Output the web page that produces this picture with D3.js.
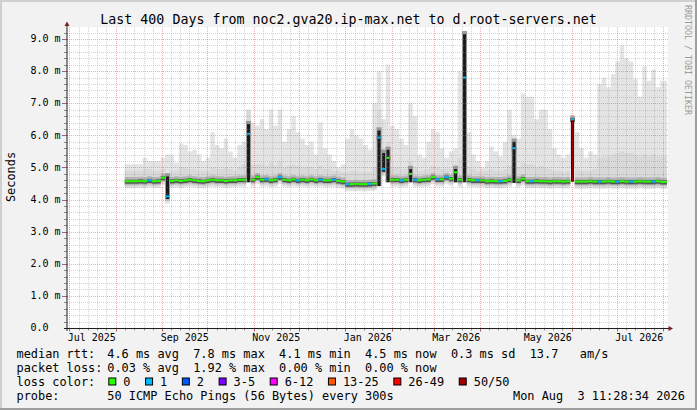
<!DOCTYPE html>
<html><head><meta charset="utf-8">
<script src="https://cdn.jsdelivr.net/npm/d3@7"></script>
<style>
html,body{margin:0;padding:0;background:#f2f2f2;}
svg{display:block;}
text{font-family:"DejaVu Sans Mono",monospace;white-space:pre;}
</style></head><body>
<svg id="c" width="697" height="410"></svg>
<script>
// ---------------- DATA ----------------
const title = "Last 400 Days from noc2.gva20.ip-max.net to d.root-servers.net";
const yAxisTitle = "Seconds";
const watermark = "RRDTOOL / TOBI OETIKER";
const startTime = "2025-06-29T11:28:34Z";
const endTime   = "2026-08-03T11:28:34Z";
const yTicks = [0,1,2,3,4,5,6,7,8,9];
const yTickLabels = ["0.0  ","1.0 m","2.0 m","3.0 m","4.0 m","5.0 m","6.0 m","7.0 m","8.0 m","9.0 m"];
const xTickMonths = ["2025-07-01","2025-09-01","2025-11-01","2026-01-01","2026-03-01","2026-05-01","2026-07-01"];
const xTickLabels = ["Jul 2025","Sep 2025","Nov 2025","Jan 2026","Mar 2026","May 2026","Jul 2026"];

// data bins: 3-day steps starting 2025-08-07
const binStart = "2025-08-07T00:00:00Z";
const binDays = 3;
// median RTT (ms)
const median = [
 4.57,4.57,4.57,4.58,4.57,4.60,4.57,4.58,4.68,4.10,
 4.58,4.60,4.58,4.60,4.62,4.60,4.58,4.57,4.60,4.62,
 4.60,4.60,4.58,4.60,4.60,4.62,4.62,6.05,4.62,4.70,
 4.62,4.63,4.60,4.62,4.70,4.62,4.60,4.63,4.60,4.62,
 4.60,4.63,4.60,4.62,4.60,4.60,4.62,4.58,4.56,4.48,
 4.48,4.49,4.48,4.48,4.49,4.50,5.93,4.95,5.30,4.62,
 4.62,4.60,4.62,4.80,4.62,4.60,4.62,4.63,4.70,4.63,
 4.63,4.70,4.65,4.85,4.62,7.80,4.62,4.60,4.60,4.60,
 4.57,4.58,4.57,4.57,4.58,4.62,5.60,4.60,4.65,4.57,
 4.57,4.58,4.57,4.57,4.56,4.57,4.57,4.56,4.57,6.50,
 4.56,4.56,4.56,4.57,4.56,4.56,4.56,4.57,4.56,4.56,
 4.57,4.56,4.56,4.56,4.57,4.56,4.56,4.56,4.57,4.55
];
// top of the outer (light) smoke (ms)
const smokeTop = [
 5.10,5.10,5.10,5.10,5.30,5.20,5.20,5.20,5.30,5.40,
 5.40,5.15,5.75,5.70,5.50,5.55,5.40,5.20,5.30,6.10,
 5.70,5.60,5.90,5.50,5.30,5.70,5.80,6.80,6.40,6.30,
 6.50,6.20,6.80,6.30,6.80,5.80,6.20,6.60,6.10,5.90,
 5.70,5.80,5.40,6.40,5.60,5.40,5.20,5.00,5.10,5.90,
 6.20,6.00,5.90,5.70,5.55,7.00,8.00,6.50,8.20,6.30,
 6.20,5.90,5.70,7.00,6.60,5.40,5.30,5.80,6.20,6.10,
 5.60,5.30,5.50,5.60,8.00,9.20,6.10,5.40,5.20,5.00,
 5.20,5.65,5.50,5.35,5.80,6.80,6.00,5.90,7.30,7.20,
 7.20,6.50,6.80,6.80,6.20,5.60,5.40,5.30,5.40,6.60,
 6.10,5.60,5.30,5.50,5.40,7.60,7.80,7.50,7.90,8.30,
 8.80,8.40,8.30,7.75,7.20,8.15,7.70,8.05,7.50,7.70
];
// top of the inner (medium) smoke (ms)
const smokeMid = [
 4.90,4.90,4.90,4.90,4.95,4.95,4.90,4.90,4.95,4.80,
 4.90,4.90,5.00,5.00,4.95,4.95,4.90,4.90,4.90,5.00,
 4.95,4.95,5.00,4.95,4.90,5.00,5.10,6.80,5.10,5.10,
 5.10,5.05,5.15,5.05,5.20,5.00,5.05,5.10,5.05,5.00,
 5.00,5.00,4.95,5.05,4.95,4.95,4.90,4.90,4.85,4.85,
 4.90,4.90,4.85,4.85,4.85,5.00,6.80,5.60,5.80,5.00,
 5.00,4.95,4.95,5.20,5.00,4.90,4.90,4.95,5.05,5.00,
 4.95,4.95,4.95,5.10,5.30,9.20,5.00,4.95,4.90,4.90,
 4.90,4.95,4.90,4.90,4.95,5.05,5.90,5.00,5.15,5.10,
 5.10,5.00,5.05,5.00,4.95,4.90,4.90,4.85,4.90,4.95,
 4.95,4.90,4.90,4.90,4.95,5.30,5.35,5.35,5.40,5.45,
 5.50,5.45,5.45,5.40,5.35,5.40,5.35,5.40,5.35,5.35
];
// loss category per bin (index into lossLabels)
const loss = [
 0,0,0,0,0,1,0,0,0,1, 0,0,0,0,0,0,0,0,0,0,
 0,0,0,0,0,0,0,1,0,0, 0,1,0,0,1,0,0,0,1,0,
 0,0,0,1,0,0,1,0,0,1, 0,0,0,0,1,0,1,1,0,0,
 0,1,0,0,1,0,0,0,0,1, 0,1,0,0,0,1,0,0,1,0,
 0,0,0,1,0,0,1,0,0,0, 1,0,0,0,0,0,0,0,0,7,
 0,0,0,0,0,1,0,0,0,1, 0,0,1,0,0,0,0,1,0,0
];
// dense (dark) smoke columns at RTT spikes
const spikeBins = [9, 27, 56, 57, 58, 63, 73, 75, 86];
const spikeTops = [4.72, 6.35, 6.15, 5.45, 5.55, 4.95, 4.95, 9.15, 5.80];

const lossLabels = ["0","1","2","3-5","6-12","13-25","26-49","50/50"];
const lossColors = ["#26ff00","#00b8ff","#0059ff","#7e00ff","#ff00ff","#ff5500","#ff0000","#a10000"];

const legendLabels = ["median rtt:","packet loss:","loss color:","probe:"];
const medianStats = "4.6 ms avg  7.8 ms max  4.1 ms min  4.5 ms now  0.3 ms sd  13.7   am/s";
const lossStats = "0.03 % avg  1.92 % max  0.00 % min  0.00 % now";
const probeText = "50 ICMP Echo Pings (56 Bytes) every 300s";
const dateText = "Mon Aug  3 11:28:34 2026";

// ---------------- DRAW ----------------
const W = 697, H = 410;
const PL = 67, PR = 667, PT = 27, PB = 328;
const svg = d3.select("#c");
const DAY = 864e5;

svg.append("rect").attr("width",W).attr("height",H).attr("fill","#f2f2f2");
svg.append("rect").attr("x",0).attr("y",0).attr("width",W).attr("height",2).attr("fill","#cfcfcf");
svg.append("rect").attr("x",0).attr("y",0).attr("width",2).attr("height",H).attr("fill","#cfcfcf");
svg.append("rect").attr("x",0).attr("y",H-2).attr("width",W).attr("height",2).attr("fill","#9e9e9e");
svg.append("rect").attr("x",W-2).attr("y",0).attr("width",2).attr("height",H).attr("fill","#9e9e9e");

const tStart = new Date(startTime), tEnd = new Date(endTime);
const x = d3.scaleUtc().domain([tStart, tEnd]).range([PL, PR]);
const y = d3.scaleLinear().domain([0, 9.375]).range([PB, PT]);

svg.append("rect").attr("x",PL).attr("y",PT).attr("width",PR-PL+1).attr("height",PB-PT).attr("fill","#ffffff");

svg.append("clipPath").attr("id","clip").append("rect")
  .attr("x",PL).attr("y",PT).attr("width",PR-PL+1).attr("height",PB-PT);
const g = svg.append("g").attr("clip-path","url(#clip)");

const b0 = new Date(binStart).getTime();
const bins = median.map((m,i)=>({
  i, t0:new Date(b0 + i*binDays*DAY),
  t1: i === median.length-1 ? tEnd : new Date(b0 + (i+1)*binDays*DAY),
  med:m, top:smokeTop[i], mid:smokeMid[i], loss:loss[i]
}));
const pts = bins.map(b=>Object.assign({t:b.t0}, b));
pts.push(Object.assign({}, bins[bins.length-1], {t:tEnd}));

function band(lo, hi, fill){
  g.append("path").datum(pts)
    .attr("d", d3.area().curve(d3.curveStepAfter)
      .x(d=>x(d.t)).y0(d=>y(lo(d))).y1(d=>y(hi(d))))
    .attr("fill", fill);
}
band(d=>d.med-0.22, d=>d.top, "#e4e4e4");
band(d=>d.med-0.17, d=>d.mid, "#d9d9d9");
band(d=>d.med-0.12, d=>d.med+0.13, "#b4b4b4");
band(d=>d.med-0.08, d=>d.med+0.05, "#555555");

// dark spike columns (narrow, centred in the bin)
const spikeW = 3;
spikeBins.forEach((bi,k)=>{
  const b = bins[bi];
  const cx = (x(b.t0)+x(b.t1))/2;
  const base = Math.min(b.med, bins[bi-1].med, bins[bi+1].med) - 0.08;
  g.append("rect")
    .attr("x", cx-spikeW/2-1).attr("width", spikeW+2)
    .attr("y", y(spikeTops[k]+0.1)).attr("height", y(base)-y(spikeTops[k]+0.1))
    .attr("fill", "#9a9a9a");
  g.append("rect")
    .attr("x", cx-spikeW/2).attr("width", spikeW)
    .attr("y", y(spikeTops[k])).attr("height", y(base)-y(spikeTops[k]))
    .attr("fill", "#1a1a1a");
});

// grid
const gridG = svg.append("g");
const minorY = d3.range(1, 47).map(k=>+(k*0.2).toFixed(1)).filter(v=>y(v)>=PT);
minorY.forEach(v=>{
  const major = Math.abs(v-Math.round(v))<1e-6;
  const yy = Math.round(y(v))+0.5;
  gridG.append("line").attr("x1",PL).attr("x2",PR+1).attr("y1",yy).attr("y2",yy)
    .attr("stroke", major ? "rgba(222,79,79,0.45)" : "rgba(143,143,143,0.38)")
    .attr("stroke-dasharray","1,1");
  gridG.append("line").attr("x1", major?62:64).attr("x2",PL).attr("y1",yy).attr("y2",yy)
    .attr("stroke", major ? "#b06060" : "#8f8f8f");
});
const months = d3.utcMonth.range(d3.utcMonth.floor(tStart), tEnd);
const majorX = months.filter(m=>m>=tStart);
const minorX = [];
months.forEach(m=>{
  const n = d3.utcMonth.offset(m,1);
  for(let k=1;k<5;k++){
    const t = new Date(+m + (n-m)*k/5);
    if (t>tStart && t<tEnd) minorX.push(t);
  }
});
minorX.forEach(t=>{
  const xx = Math.round(x(t))+0.5;
  gridG.append("line").attr("x1",xx).attr("x2",xx).attr("y1",PT).attr("y2",PB)
    .attr("stroke","rgba(143,143,143,0.38)").attr("stroke-dasharray","1,1");
  gridG.append("line").attr("x1",xx).attr("x2",xx).attr("y1",PB).attr("y2",PB+2.5).attr("stroke","#8f8f8f");
});
majorX.forEach(t=>{
  const xx = Math.round(x(t))+0.5;
  gridG.append("line").attr("x1",xx).attr("x2",xx).attr("y1",PT).attr("y2",PB)
    .attr("stroke","rgba(222,79,79,0.45)").attr("stroke-dasharray","1,1");
  gridG.append("line").attr("x1",xx).attr("x2",xx).attr("y1",PB).attr("y2",PB+3.5).attr("stroke","#b06060");
});

// median line coloured by loss
const medG = svg.append("g").attr("clip-path","url(#clip)");
const spikeSet = new Set(spikeBins);
bins.forEach((b,i)=>{
  if (b.loss >= 3) {
    const cx = (x(b.t0)+x(b.t1))/2;
    const lo = Math.min(bins[i-1].med, bins[i+1].med);
    medG.append("line").attr("x1",cx).attr("x2",cx).attr("y1",y(lo)).attr("y2",y(b.med))
      .attr("stroke","#2a0000").attr("stroke-width",3);
    medG.append("line").attr("x1",cx).attr("x2",cx).attr("y1",y(lo)).attr("y2",y(b.med))
      .attr("stroke",lossColors[b.loss]).attr("stroke-width",1.6);
  }
});
bins.forEach(b=>{
  let x1 = x(b.t0), x2 = x(b.t1);
  if ((spikeSet.has(b.i) && b.i !== 9) || b.loss >= 3) { const cx=(x1+x2)/2; x1 = cx-1.5; x2 = cx+1.5; }
  medG.append("line").attr("x1",x1).attr("x2",x2)
    .attr("y1",y(b.med)).attr("y2",y(b.med))
    .attr("stroke", b.loss>=3 ? lossColors[1] : lossColors[b.loss]).attr("stroke-width",2);
});

// axes
svg.append("line").attr("x1",PL-3).attr("x2",PR+3).attr("y1",PB+0.5).attr("y2",PB+0.5).attr("stroke","#1f1f1f");
svg.append("line").attr("x1",PL).attr("x2",PL).attr("y1",PB+3).attr("y2",PT-4).attr("stroke","#1f1f1f");
svg.append("path").attr("d",`M${PL-2.5},${PT-1}L${PL},${PT-5.5}L${PL+2.5},${PT-1}Z`).attr("fill","#801f1f");
svg.append("path").attr("d",`M${PR+1.5},${PB-2}L${PR+6},${PB+0.5}L${PR+1.5},${PB+3}Z`).attr("fill","#801f1f");

// y tick labels
yTicks.forEach((v,i)=>{
  svg.append("text").attr("x",60.5).attr("y",y(v)+3.2).attr("text-anchor","end")
    .attr("xml:space","preserve").attr("font-size","10px").attr("fill","#000").text(yTickLabels[i]);
});
// x tick labels (centred half a month after month start)
xTickMonths.forEach((m,i)=>{
  const t = new Date(new Date(m+"T00:00:00Z").getTime() + 15*DAY);
  svg.append("text").attr("x",x(t)).attr("y",340.5).attr("text-anchor","middle")
    .attr("font-size","10px").attr("fill","#000").text(xTickLabels[i]);
});

// title
svg.append("text").attr("x",348.5).attr("y",24).attr("text-anchor","middle")
  .attr("font-size","13.3px").attr("fill","#000").text(title);
// y axis title
svg.append("text").attr("transform","translate(15,177) rotate(-90)").attr("text-anchor","middle")
  .attr("font-size","11.9px").attr("fill","#000").text(yAxisTitle);
// watermark
svg.append("text").attr("transform","translate(685,5) rotate(90)")
  .attr("font-size","8.3px").attr("fill","#9a9a9a").text(watermark);

// legend
const LF = "11.9px";
const rowsY = [358, 372, 386, 400];
legendLabels.forEach((l,i)=>{
  svg.append("text").attr("x",16.5).attr("y",rowsY[i]).attr("font-size",LF).attr("fill","#000").text(l);
});
svg.append("text").attr("x",107.3).attr("y",rowsY[0]).attr("xml:space","preserve").attr("font-size",LF).text(medianStats);
svg.append("text").attr("x",107.3).attr("y",rowsY[1]).attr("xml:space","preserve").attr("font-size",LF).text(lossStats);
svg.append("text").attr("x",107.3).attr("y",rowsY[3]).attr("xml:space","preserve").attr("font-size",LF).text(probeText);
svg.append("text").attr("x",513).attr("y",rowsY[3]).attr("xml:space","preserve").attr("font-size",LF).text(dateText);

let bx = 108.3;
lossLabels.forEach((l,i)=>{
  svg.append("rect").attr("x",bx+0.5).attr("y",378).attr("width",7).attr("height",7)
    .attr("fill",lossColors[i]).attr("stroke","#000").attr("stroke-width",1);
  const tx = svg.append("text").attr("x",bx+15).attr("y",rowsY[2]).attr("font-size",LF).text(l);
  bx = bx + 15 + tx.node().getComputedTextLength() + 14.6;
});
</script>
</body></html>
